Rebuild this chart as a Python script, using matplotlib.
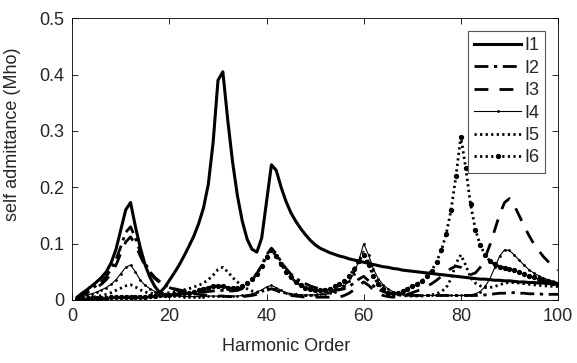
import numpy as np
import matplotlib
matplotlib.use("Agg")
import matplotlib.pyplot as plt

plt.rcParams['font.family'] = ['Liberation Sans', 'DejaVu Sans']

# harmonic orders 1..100
harmonic = list(range(1, 101))

I1 = [0.005, 0.012, 0.018, 0.025, 0.032, 0.040, 0.050, 0.066, 0.090, 0.125,
      0.160, 0.173, 0.130, 0.093, 0.062, 0.040, 0.024, 0.013, 0.022, 0.035,
      0.048, 0.062, 0.078, 0.095, 0.113, 0.135, 0.163, 0.205, 0.280, 0.390,
      0.405, 0.320, 0.245, 0.185, 0.140, 0.108, 0.090, 0.085, 0.110, 0.175,
      0.240, 0.230, 0.200, 0.175, 0.155, 0.140, 0.127, 0.116, 0.106, 0.098,
      0.092, 0.088, 0.084, 0.081, 0.078, 0.076, 0.073, 0.071, 0.069, 0.067,
      0.065, 0.063, 0.061, 0.059, 0.058, 0.056, 0.055, 0.053, 0.052, 0.051,
      0.050, 0.049, 0.048, 0.047, 0.046, 0.045, 0.044, 0.043, 0.042, 0.041,
      0.040, 0.039, 0.038, 0.037, 0.037, 0.036, 0.035, 0.035, 0.034, 0.034,
      0.033, 0.032, 0.032, 0.031, 0.031, 0.030, 0.030, 0.029, 0.029, 0.028]

I2 = [0.004, 0.010, 0.015, 0.020, 0.026, 0.033, 0.042, 0.055, 0.072, 0.095,
      0.120, 0.130, 0.110, 0.085, 0.065, 0.050, 0.040, 0.033, 0.027, 0.023,
      0.020, 0.018, 0.016, 0.015, 0.014, 0.014, 0.014, 0.015, 0.016, 0.017,
      0.017, 0.016, 0.016, 0.017, 0.020, 0.026, 0.035, 0.047, 0.062, 0.080,
      0.092, 0.082, 0.068, 0.056, 0.046, 0.039, 0.033, 0.029, 0.025, 0.022,
      0.020, 0.018, 0.017, 0.017, 0.018, 0.020, 0.024, 0.030, 0.037, 0.042,
      0.034, 0.025, 0.019, 0.015, 0.012, 0.011, 0.010, 0.009, 0.009, 0.008,
      0.008, 0.008, 0.008, 0.008, 0.008, 0.008, 0.008, 0.008, 0.008, 0.008,
      0.008, 0.008, 0.008, 0.008, 0.009, 0.010, 0.011, 0.012, 0.012, 0.013,
      0.013, 0.012, 0.012, 0.011, 0.011, 0.011, 0.010, 0.010, 0.010, 0.010]

I3 = [0.003, 0.008, 0.012, 0.017, 0.022, 0.028, 0.036, 0.047, 0.062, 0.083,
      0.103, 0.112, 0.098, 0.078, 0.060, 0.047, 0.038, 0.031, 0.026, 0.022,
      0.019, 0.016, 0.014, 0.012, 0.011, 0.010, 0.009, 0.008, 0.008, 0.007,
      0.007, 0.006, 0.006, 0.006, 0.006, 0.007, 0.008, 0.010, 0.013, 0.017,
      0.020, 0.017, 0.013, 0.010, 0.008, 0.007, 0.006, 0.005, 0.005, 0.005,
      0.005, 0.005, 0.005, 0.005, 0.005, 0.008, 0.012, 0.018, 0.026, 0.032,
      0.026, 0.018, 0.012, 0.008, 0.006, 0.005, 0.006, 0.008, 0.010, 0.013,
      0.016, 0.020, 0.024, 0.029, 0.035, 0.042, 0.050, 0.056, 0.060, 0.058,
      0.050, 0.045, 0.048, 0.058, 0.075, 0.098, 0.125, 0.152, 0.173, 0.180,
      0.168, 0.150, 0.132, 0.115, 0.100, 0.088, 0.077, 0.068, 0.060, 0.053]

I4 = [0.002, 0.005, 0.008, 0.011, 0.014, 0.018, 0.022, 0.028, 0.036, 0.047,
      0.058, 0.062, 0.050, 0.035, 0.026, 0.020, 0.015, 0.011, 0.009, 0.008,
      0.007, 0.007, 0.006, 0.006, 0.006, 0.006, 0.006, 0.007, 0.007, 0.007,
      0.007, 0.007, 0.007, 0.007, 0.008, 0.009, 0.011, 0.014, 0.018, 0.023,
      0.026, 0.022, 0.017, 0.013, 0.011, 0.010, 0.009, 0.009, 0.009, 0.009,
      0.010, 0.010, 0.012, 0.015, 0.019, 0.025, 0.034, 0.047, 0.070, 0.100,
      0.080, 0.055, 0.038, 0.027, 0.020, 0.015, 0.012, 0.010, 0.009, 0.009,
      0.008, 0.008, 0.008, 0.008, 0.008, 0.008, 0.008, 0.008, 0.008, 0.008,
      0.008, 0.009, 0.011, 0.015, 0.024, 0.038, 0.058, 0.078, 0.089, 0.088,
      0.080, 0.071, 0.062, 0.054, 0.048, 0.043, 0.039, 0.036, 0.033, 0.031]

I5 = [0.001, 0.002, 0.004, 0.005, 0.006, 0.008, 0.010, 0.013, 0.017, 0.021,
      0.025, 0.027, 0.023, 0.018, 0.014, 0.012, 0.011, 0.011, 0.012, 0.013,
      0.014, 0.016, 0.018, 0.020, 0.023, 0.026, 0.030, 0.036, 0.044, 0.054,
      0.058, 0.050, 0.040, 0.032, 0.025, 0.020, 0.016, 0.014, 0.015, 0.018,
      0.020, 0.018, 0.015, 0.012, 0.010, 0.009, 0.008, 0.008, 0.008, 0.009,
      0.010, 0.011, 0.013, 0.016, 0.020, 0.026, 0.035, 0.050, 0.070, 0.085,
      0.068, 0.045, 0.030, 0.020, 0.014, 0.011, 0.009, 0.008, 0.007, 0.007,
      0.007, 0.007, 0.008, 0.009, 0.011, 0.015, 0.022, 0.038, 0.065, 0.080,
      0.062, 0.040, 0.030, 0.025, 0.022, 0.022, 0.024, 0.027, 0.030, 0.031,
      0.031, 0.030, 0.029, 0.028, 0.027, 0.026, 0.025, 0.025, 0.024, 0.024]

I6 = [0.001, 0.002, 0.002, 0.003, 0.003, 0.004, 0.004, 0.005, 0.005, 0.006,
      0.006, 0.006, 0.006, 0.006, 0.006, 0.007, 0.007, 0.008, 0.008, 0.009,
      0.010, 0.011, 0.012, 0.013, 0.015, 0.017, 0.019, 0.022, 0.024, 0.025,
      0.024, 0.022, 0.021, 0.022, 0.025, 0.030, 0.037, 0.047, 0.060, 0.077,
      0.088, 0.078, 0.063, 0.050, 0.040, 0.032, 0.026, 0.022, 0.019, 0.017,
      0.017, 0.018, 0.020, 0.024, 0.028, 0.034, 0.042, 0.055, 0.070, 0.080,
      0.062, 0.042, 0.028, 0.020, 0.012, 0.012, 0.013, 0.016, 0.020, 0.024,
      0.028, 0.034, 0.042, 0.052, 0.068, 0.088, 0.118, 0.160, 0.220, 0.290,
      0.235, 0.170, 0.125, 0.097, 0.080, 0.069, 0.063, 0.059, 0.057, 0.055,
      0.053, 0.050, 0.046, 0.043, 0.040, 0.037, 0.035, 0.033, 0.031, 0.029]

labels = ["I1", "I2", "I3", "I4", "I5", "I6"]

fig = plt.figure(figsize=(5.77, 3.63), dpi=100)
ax = fig.add_axes([0.1253, 0.1736, 0.8417, 0.776])

k = "black"
txt = "#262626"
ax.plot(harmonic, I1, color=k, lw=2.2, ls="-", label=labels[0])
ax.plot(harmonic, I2, color=k, lw=2.0, ls=(0, (5, 2, 1.2, 2)), label=labels[1])
ax.plot(harmonic, I3, color=k, lw=2.0, ls=(0, (5, 4)), label=labels[2])
ax.plot(harmonic, I4, color=k, lw=0.8, ls="-", marker=".", ms=2, label=labels[3])
ax.plot(harmonic, I5, color=k, lw=2.0, ls=(0, (0.8, 1.2)), label=labels[4])
ax.plot(harmonic, I6, color=k, lw=2.0, ls=(0, (0.8, 1.2)), marker="o", ms=2.8, label=labels[5])

ax.set_xlim(0, 100)
ax.set_ylim(0, 0.5)
ax.set_xticks([0, 20, 40, 60, 80, 100])
ax.set_yticks([0, 0.1, 0.2, 0.3, 0.4, 0.5])
ax.set_yticklabels(["0", "0.1", "0.2", "0.3", "0.4", "0.5"])
ax.tick_params(direction="in", top=True, right=True, labelsize=13, length=4,
               width=0.6, pad=6, labelcolor=txt)
for s in ax.spines.values():
    s.set_linewidth(0.6)

ax.set_xlabel("Harmonic Order", fontsize=13, color=txt)
ax.xaxis.set_label_coords(0.44, -0.135)
ax.set_ylabel("self admittance (Mho)", fontsize=13, color=txt)
ax.yaxis.set_label_coords(-0.105, 0.59)

leg = ax.legend(loc="upper right", fontsize=13, handlelength=2.6, handletextpad=0.15,
                labelspacing=0.3, borderaxespad=0.7, fancybox=False, framealpha=1,
                edgecolor="#555555", borderpad=0.35)
leg.get_frame().set_linewidth(0.8)
for t in leg.get_texts():
    t.set_color(txt)

fig.savefig("out.png", dpi=100)
